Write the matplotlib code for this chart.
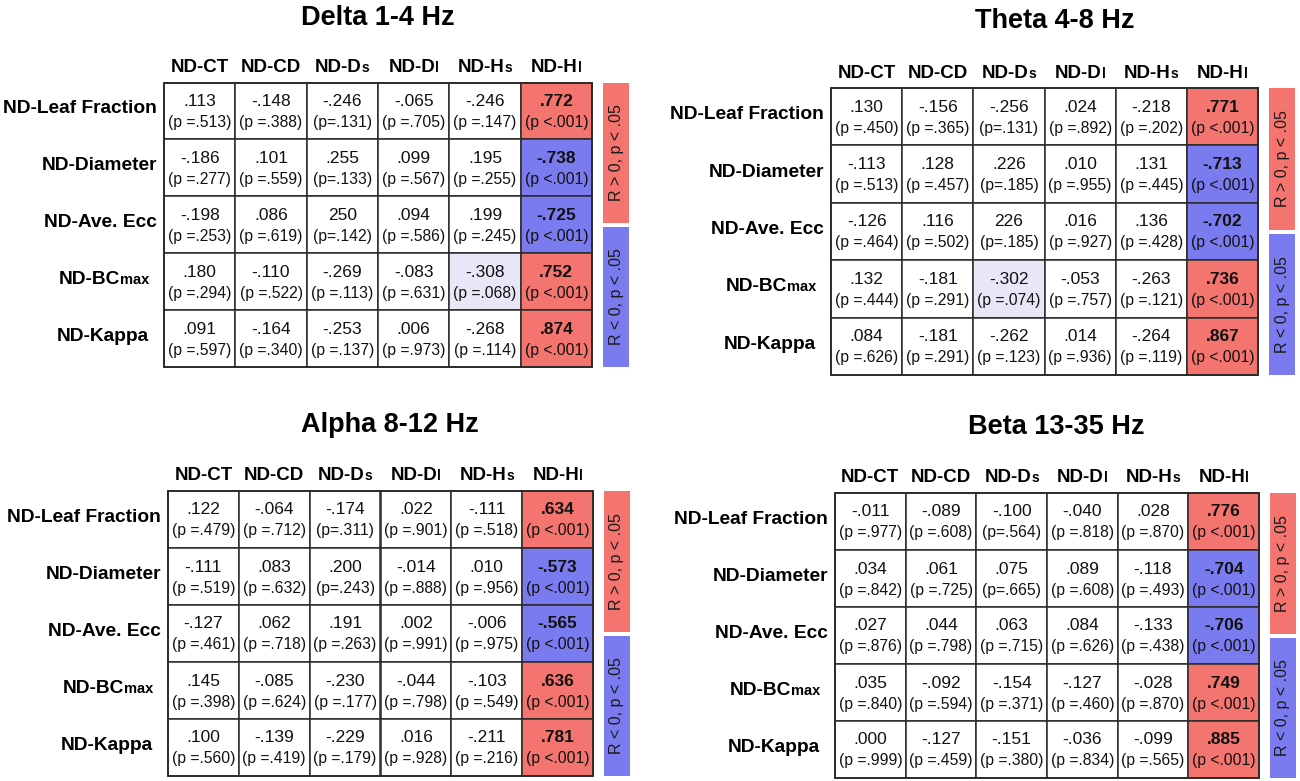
import matplotlib
matplotlib.use("Agg")
import matplotlib.pyplot as plt
from matplotlib.patches import Rectangle
from matplotlib.offsetbox import TextArea, HPacker, AnnotationBbox

plt.rcParams["font.family"] = ["Liberation Sans", "DejaVu Sans"]

# ---- data ---------------------------------------------------------------
col_main = ["ND-CT", "ND-CD", "ND-D", "ND-D", "ND-H", "ND-H"]
col_sub = ["", "", "s", "l", "s", "l"]
row_main = ["ND-Leaf Fraction", "ND-Diameter", "ND-Ave. Ecc", "ND-BC", "ND-Kappa"]
row_sub = ["", "", "", "max", ""]

delta_r = [[".113", "-.148", "-.246", "-.065", "-.246", ".772"],
           ["-.186", ".101", ".255", ".099", ".195", "-.738"],
           ["-.198", ".086", "250", ".094", ".199", "-.725"],
           [".180", "-.110", "-.269", "-.083", "-.308", ".752"],
           [".091", "-.164", "-.253", ".006", "-.268", ".874"]]
delta_p = [["(p =.513)", "(p =.388)", "(p=.131)", "(p =.705)", "(p =.147)", "(p <.001)"],
           ["(p =.277)", "(p =.559)", "(p=.133)", "(p =.567)", "(p =.255)", "(p <.001)"],
           ["(p =.253)", "(p =.619)", "(p=.142)", "(p =.586)", "(p =.245)", "(p <.001)"],
           ["(p =.294)", "(p =.522)", "(p =.113)", "(p =.631)", "(p =.068)", "(p <.001)"],
           ["(p =.597)", "(p =.340)", "(p =.137)", "(p =.973)", "(p =.114)", "(p <.001)"]]

theta_r = [[".130", "-.156", "-.256", ".024", "-.218", ".771"],
           ["-.113", ".128", ".226", ".010", ".131", "-.713"],
           ["-.126", ".116", "226", ".016", ".136", "-.702"],
           [".132", "-.181", "-.302", "-.053", "-.263", ".736"],
           [".084", "-.181", "-.262", ".014", "-.264", ".867"]]
theta_p = [["(p =.450)", "(p =.365)", "(p=.131)", "(p =.892)", "(p =.202)", "(p <.001)"],
           ["(p =.513)", "(p =.457)", "(p=.185)", "(p =.955)", "(p =.445)", "(p <.001)"],
           ["(p =.464)", "(p =.502)", "(p=.185)", "(p =.927)", "(p =.428)", "(p <.001)"],
           ["(p =.444)", "(p =.291)", "(p =.074)", "(p =.757)", "(p =.121)", "(p <.001)"],
           ["(p =.626)", "(p =.291)", "(p =.123)", "(p =.936)", "(p =.119)", "(p <.001)"]]

alpha_r = [[".122", "-.064", "-.174", ".022", "-.111", ".634"],
           ["-.111", ".083", ".200", "-.014", ".010", "-.573"],
           ["-.127", ".062", ".191", ".002", "-.006", "-.565"],
           [".145", "-.085", "-.230", "-.044", "-.103", ".636"],
           [".100", "-.139", "-.229", ".016", "-.211", ".781"]]
alpha_p = [["(p =.479)", "(p =.712)", "(p=.311)", "(p =.901)", "(p =.518)", "(p <.001)"],
           ["(p =.519)", "(p =.632)", "(p=.243)", "(p =.888)", "(p =.956)", "(p <.001)"],
           ["(p =.461)", "(p =.718)", "(p =.263)", "(p =.991)", "(p =.975)", "(p <.001)"],
           ["(p =.398)", "(p =.624)", "(p =.177)", "(p =.798)", "(p =.549)", "(p <.001)"],
           ["(p =.560)", "(p =.419)", "(p =.179)", "(p =.928)", "(p =.216)", "(p <.001)"]]

beta_r = [["-.011", "-.089", "-.100", "-.040", ".028", ".776"],
          [".034", ".061", ".075", ".089", "-.118", "-.704"],
          [".027", ".044", ".063", ".084", "-.133", "-.706"],
          [".035", "-.092", "-.154", "-.127", "-.028", ".749"],
          [".000", "-.127", "-.151", "-.036", "-.099", ".885"]]
beta_p = [["(p =.977)", "(p =.608)", "(p=.564)", "(p =.818)", "(p =.870)", "(p <.001)"],
          ["(p =.842)", "(p =.725)", "(p=.665)", "(p =.608)", "(p =.493)", "(p <.001)"],
          ["(p =.876)", "(p =.798)", "(p =.715)", "(p =.626)", "(p =.438)", "(p <.001)"],
          ["(p =.840)", "(p =.594)", "(p =.371)", "(p =.460)", "(p =.870)", "(p <.001)"],
          ["(p =.999)", "(p =.459)", "(p =.380)", "(p =.834)", "(p =.565)", "(p <.001)"]]

titles = ["Delta 1-4 Hz", "Theta 4-8 Hz", "Alpha 8-12 Hz", "Beta 13-35 Hz"]
trend_cells = [(3, 4), (3, 2), None, None]   # p < .10, shaded light blue
legend_labels = ["R > 0, p < .05", "R < 0, p < .05"]

# ---- layout (pixels) ----------------------------------------------------
# table box (left, top, right, bottom), title centre
boxes = [(164, 82.5, 592, 367), (831, 88, 1258, 375),
         (168, 491, 593, 776), (835, 493, 1259, 778)]
title_xy = [(378, 18), (1055, 21), (390, 425), (1056, 427)]

RED = "#f4746f"
BLUE = "#7b7bf0"
PALE = "#e7e7f8"
LINE = "#2a2a2a"

fig = plt.figure(figsize=(13, 7.81), dpi=100)
ax = fig.add_axes([0, 0, 1, 1])
ax.set_xlim(0, 1300)
ax.set_ylim(781, 0)
ax.axis("off")


def packed(x, y, main, sub, size, subsize, align):
    parts = [TextArea(main, textprops=dict(fontsize=size, fontweight="bold"))]
    if sub:
        parts.append(TextArea(sub, textprops=dict(fontsize=subsize,
                                                  fontweight="bold")))
    box = HPacker(children=parts, align="baseline", pad=0, sep=0)
    ab = AnnotationBbox(box, (x, y), xycoords="data", frameon=False,
                        box_alignment=align, pad=0)
    ax.add_artist(ab)


all_r = [delta_r, theta_r, alpha_r, beta_r]
all_p = [delta_p, theta_p, alpha_p, beta_p]

for k in range(4):
    x0, y0, x1, y1 = boxes[k]
    rv, pv = all_r[k], all_p[k]
    nr, nc = len(rv), len(rv[0])
    cw = (x1 - x0) / nc
    rh = (y1 - y0) / nr

    ax.text(title_xy[k][0], title_xy[k][1], titles[k], ha="center",
            va="center", fontsize=19.5, fontweight="bold")

    for j in range(nc):
        packed(x0 + (j + 0.5) * cw, y0 - 15, col_main[j], col_sub[j],
               13.5, 10, (0.5, 0.5))

    for i in range(nr):
        yc = y0 + (i + 0.5) * rh
        off = 7 if i < 3 else 15
        packed(x0 - off, yc - 2, row_main[i], row_sub[i], 13.8, 10.5, (1, 0.5))
        for j in range(nc):
            xl = x0 + j * cw
            last = j == nc - 1
            fc = "white"
            if last:
                fc = BLUE if rv[i][j].startswith("-") else RED
            elif trend_cells[k] == (i, j):
                fc = PALE
            ax.add_patch(Rectangle((xl, y0 + i * rh), cw, rh, fc=fc,
                                   ec=LINE, lw=1.1, zorder=1))
            ax.text(xl + cw / 2, yc - 9.5, rv[i][j], ha="center", va="center",
                    fontsize=12.5, fontweight="bold" if last else "normal",
                    color="#111111", zorder=3)
            ax.text(xl + cw / 2, yc + 11.5, pv[i][j], ha="center",
                    va="center", fontsize=11.3, color="#111111", zorder=3)

    ax.add_patch(Rectangle((x0, y0), x1 - x0, y1 - y0, fc="none", ec=LINE,
                           lw=1.3, zorder=2))

    # sign key to the right of the table
    bx = x1 + 11
    mid = (y0 + y1) / 2
    for (ya, yb), col, lbl in (((y0, mid - 2), RED, legend_labels[0]),
                               ((mid + 2, y1), BLUE, legend_labels[1])):
        ax.add_patch(Rectangle((bx, ya), 26, yb - ya, fc=col, ec="none"))
        ax.text(bx + 13, (ya + yb) / 2, lbl, rotation=90, ha="center",
                va="center", fontsize=11.5, color="#1a1a1a")

fig.savefig("out.png", dpi=100)
